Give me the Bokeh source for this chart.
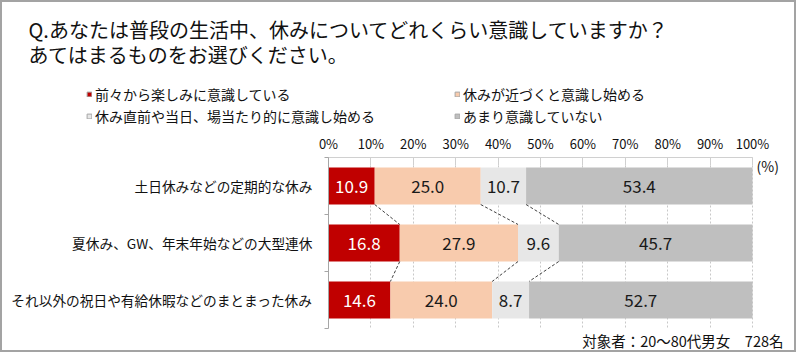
import numpy as np
from bokeh.plotting import figure
from bokeh.models import (ColumnDataSource, Range1d, FixedTicker, PrintfTickFormatter,
                          LinearAxis, Grid, Label, Legend, LegendItem)
from bokeh.core.properties import value
from bokeh.embed import file_html
from bokeh.resources import INLINE

FONT = "Noto Sans CJK JP"

title_lines = ["Q.あなたは普段の生活中、休みについてどれくらい意識していますか？",
               "あてはまるものをお選びください。"]
categories = ["土日休みなどの定期的な休み",
              "夏休み、GW、年末年始などの大型連休",
              "それ以外の祝日や有給休暇などのまとまった休み"]
series_names = ["前々から楽しみに意識している",
                "休みが近づくと意識し始める",
                "休み直前や当日、場当たり的に意識し始める",
                "あまり意識していない"]
s_maeno = [10.9, 16.8, 14.6]
s_chikazuku = [25.0, 27.9, 24.0]
s_chokuzen = [10.7, 9.6, 8.7]
s_amari = [53.4, 45.7, 52.7]
series_values = [s_maeno, s_chikazuku, s_chokuzen, s_amari]
colors = ["#C00000", "#F8CBAD", "#E7E7E7", "#BFBFBF"]
text_colors = ["#FFFFFF", "#1a1a1a", "#1a1a1a", "#1a1a1a"]
x_ticks = [0, 10, 20, 30, 40, 50, 60, 70, 80, 90, 100]
unit_label = "(%)"
footnote = "対象者：20～80代男女　728名"

TXT = "#111111"
BAR_H = 0.65

# ---- layout constants (window pixels) ----
W, H = 796, 352           # canvas inside a 2px border
OX, OY = 2, 2             # canvas origin in the window
PX0, PX100 = 328, 752     # x of 0% and 100%
ROW0_Y, ROW_STEP = 185.5, 57.0
ppu = (PX100 - PX0) / 100.0
x_rng = Range1d((OX - PX0) / ppu, (OX + W - PX0) / ppu)
# y grows downward: row index i sits at ROW0_Y + i*ROW_STEP
y_rng = Range1d((OY + H - ROW0_Y) / ROW_STEP, (OY - ROW0_Y) / ROW_STEP)

rows = list(range(len(categories)))

p = figure(width=W, height=H, output_backend="svg", toolbar_location=None,
           x_range=x_rng, y_range=y_rng, min_border=0,
           x_axis_type=None, y_axis_type=None)
p.styles = {"border": "2px solid #a3a3a3"}
p.outline_line_color = None
p.xgrid.visible = False
p.ygrid.visible = False

def sx(wx):
    return wx - OX

def sy(wy):
    return OY + H - wy

# top percentage axis, pinned to the top of the bar area
xa = LinearAxis(fixed_location=-0.5, ticker=FixedTicker(ticks=x_ticks),
                formatter=PrintfTickFormatter(format="%d%%"), bounds=(0, 100))
xa.major_label_text_font = FONT
xa.major_label_text_font_size = "13px"
xa.major_label_text_color = TXT
xa.major_tick_in = 8
xa.major_tick_out = 0
xa.major_tick_line_color = "#d0d0d0"
xa.minor_tick_in = 0
xa.minor_tick_out = 0
xa.axis_line_color = "#d0d0d0"
xa.major_label_standoff = 5
p.add_layout(xa, "above")

# category axis pinned at 0%
ya = LinearAxis(fixed_location=0,
                ticker=FixedTicker(ticks=rows, minor_ticks=[r - 0.5 for r in rows] + [rows[-1] + 0.5]),
                bounds=(-0.5, rows[-1] + 0.5))
ya.major_label_overrides = {r: c for r, c in zip(rows, categories)}
ya.major_label_text_font = FONT
ya.major_label_text_font_size = "13.7px"
ya.major_label_text_color = TXT
ya.major_tick_in = 0
ya.major_tick_out = 0
ya.minor_tick_in = 0
ya.minor_tick_out = 4
ya.minor_tick_line_color = "#a6a6a6"
ya.axis_line_color = "#a6a6a6"
ya.major_label_standoff = 12
p.add_layout(ya, "left")

grid = Grid(dimension=0, ticker=FixedTicker(ticks=x_ticks), bounds=(0, 100),
            cross_bounds=(-0.5, rows[-1] + 0.5),
            grid_line_color="#c8c8c8", grid_line_dash="2 2")
p.add_layout(grid)

lefts = [0.0] * len(categories)
bounds = []
for name, vals, col, tcol in zip(series_names, series_values, colors, text_colors):
    rights = [l + v for l, v in zip(lefts, vals)]
    src = ColumnDataSource(dict(row=rows, left=lefts, right=rights,
                                mid=[(l + r) / 2 for l, r in zip(lefts, rights)],
                                lab=["%.1f" % v for v in vals]))
    p.hbar(y="row", left="left", right="right", height=BAR_H, source=src,
           fill_color=col, line_color=None)
    p.text(x="mid", y="row", text="lab", source=src, text_color=tcol,
           text_font=value(FONT), text_font_size="17px",
           text_align="center", text_baseline="middle")
    bounds.append(rights)
    lefts = rights

# dashed connectors from the bottom of one bar to the top of the next
x0s, y0s, x1s, y1s = [], [], [], []
for b in bounds[:-1]:
    for i in rows[:-1]:
        x0s.append(b[i]); y0s.append(i + BAR_H / 2)
        x1s.append(b[i + 1]); y1s.append(i + 1 - BAR_H / 2)
p.segment(x0=x0s, y0=y0s, x1=x1s, y1=y1s, line_color="#404040", line_width=1, line_dash="3 2")

# legend swatches (outlined squares, as in the reference); a single undrawn (NaN) row each
nan = np.array([np.nan])
swatches = [p.hbar(y=nan, left=nan, right=nan, height=BAR_H, fill_color=c,
                   line_color="#a6a6a6", line_width=1) for c in colors]

def make_legend(idx, wx, wy_bottom):
    lg = Legend(items=[LegendItem(label=series_names[i], renderers=[swatches[i]]) for i in idx],
                location=(sx(wx), sy(wy_bottom)), orientation="vertical",
                label_text_font=FONT, label_text_font_size="14px", label_text_color=TXT,
                glyph_width=6, glyph_height=6, label_standoff=3, label_height=17,
                spacing=2, padding=0, margin=0,
                border_line_color=None, background_fill_alpha=0)
    p.add_layout(lg, "center")

make_legend([0, 2], 86, 126)
make_legend([1, 3], 454, 126)

# title, unit and footnote
for txt, wy in zip(title_lines, [29, 54]):
    p.add_layout(Label(x=sx(28), y=sy(wy), x_units="screen", y_units="screen", text=txt,
                       text_font=FONT, text_font_size="20px", text_color=TXT,
                       text_baseline="middle"))
p.add_layout(Label(x=sx(756), y=sy(165), x_units="screen", y_units="screen", text=unit_label,
                   text_font=FONT, text_font_size="14px", text_color=TXT, text_baseline="middle"))
p.add_layout(Label(x=sx(783), y=sy(340), x_units="screen", y_units="screen", text=footnote,
                   text_font=FONT, text_font_size="14.5px", text_color=TXT,
                   text_baseline="middle", text_align="right"))

open("out.html", "w").write(file_html(p, INLINE))
